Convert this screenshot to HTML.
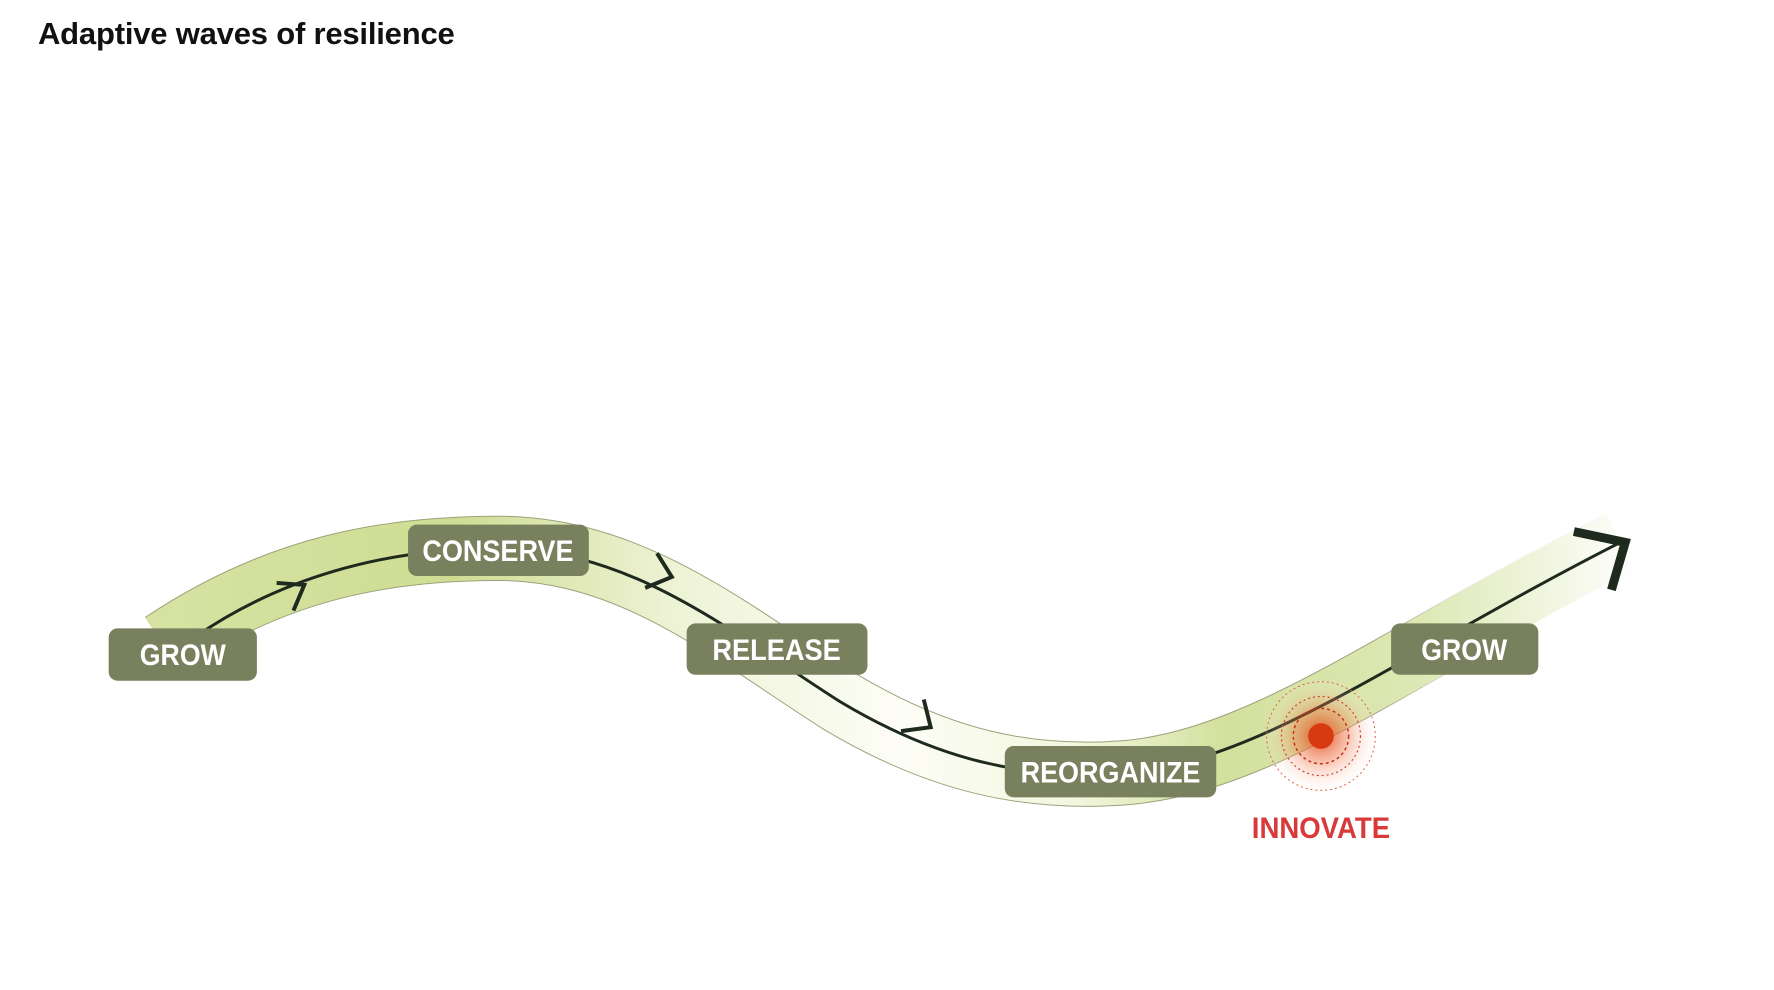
<!DOCTYPE html>
<html><head><meta charset="utf-8"><style>
html,body{margin:0;padding:0;background:#fff;}
body{width:1774px;height:990px;overflow:hidden;position:relative;font-family:"Liberation Sans",sans-serif;}
.t{position:absolute;left:38px;top:16px;font-size:31px;font-weight:bold;color:#111;font-family:"Liberation Sans",sans-serif;letter-spacing:-0.2px;}
</style></head><body>
<div class="t">Adaptive waves of resilience</div>
<svg width="1774" height="990" style="position:absolute;left:0;top:0">
<defs>
<linearGradient id="g" gradientUnits="userSpaceOnUse" x1="160" y1="0" x2="1660" y2="0">
<stop offset="0" stop-color="#d6e2a2"/>
<stop offset="0.2" stop-color="#cfdd94"/>
<stop offset="0.35" stop-color="#eef3d6"/>
<stop offset="0.5" stop-color="#fdfdf6"/>
<stop offset="0.62" stop-color="#f2f6de"/>
<stop offset="0.72" stop-color="#d3e09d"/>
<stop offset="0.85" stop-color="#dde8b4"/>
<stop offset="1" stop-color="#ffffff"/>
</linearGradient>
<linearGradient id="b" gradientUnits="userSpaceOnUse" x1="160" y1="0" x2="1660" y2="0">
<stop offset="0" stop-color="#9aa27a"/>
<stop offset="0.82" stop-color="#9aa27a"/>
<stop offset="0.95" stop-color="#ffffff" stop-opacity="0"/>
</linearGradient>
<radialGradient id="r">
<stop offset="0" stop-color="#e04010" stop-opacity="0.9"/>
<stop offset="0.5" stop-color="#f07040" stop-opacity="0.35"/>
<stop offset="1" stop-color="#ffffff" stop-opacity="0"/>
</radialGradient>
</defs>
<g transform="scale(0.988)">
<path d="M165,652 C280,575 390,555 504,555 C640,555 740,640 850,710 C950,770 1040,790 1140,782 C1280,770 1420,660 1640,548" fill="none" stroke="url(#b)" stroke-width="66"/>
<path d="M165,652 C280,575 390,555 504,555 C640,555 740,640 850,710 C950,770 1040,790 1140,782 C1280,770 1420,660 1640,548" fill="none" stroke="url(#g)" stroke-width="64"/>
<path d="M190,650 C280,585 390,555 504,555 C640,555 740,640 850,710 C950,770 1040,790 1140,782 C1280,770 1420,660 1646,546" fill="none" stroke="#1e2a1e" stroke-width="3"/>
<circle cx="1337" cy="745" r="60" fill="url(#r)"/>
<circle cx="1337" cy="745" r="55" fill="none" stroke="#e06040" stroke-width="1" stroke-dasharray="2,3"/>
<circle cx="1337" cy="745" r="40" fill="none" stroke="#d04030" stroke-width="1.2" stroke-dasharray="2,3"/>
<circle cx="1337" cy="745" r="28" fill="none" stroke="#c03020" stroke-width="1.5" stroke-dasharray="3,3"/>
<circle cx="1337" cy="745" r="13" fill="#d83a10"/>
<g fill="none" stroke="#1e2a1e" stroke-width="4">
<polyline points="280,590 308,592 297,618"/>
<polyline points="665,560 680,584 653,595"/>
<polyline points="935,708 942,736 912,740"/>
</g>
<polyline points="1593,538 1645,549 1631,597" fill="none" stroke="#1e2a1e" stroke-width="9"/>
<g font-family="Liberation Sans, sans-serif" font-weight="bold" font-size="30" fill="#fff" text-anchor="middle" lengthAdjust="spacingAndGlyphs">
<rect x="110" y="636" width="150" height="53" rx="9" fill="#78805e"/>
<text x="185" y="673" textLength="87" lengthAdjust="spacingAndGlyphs">GROW</text>
<rect x="413" y="531" width="183" height="52" rx="9" fill="#78805e"/>
<text x="504" y="568" textLength="153" lengthAdjust="spacingAndGlyphs">CONSERVE</text>
<rect x="695" y="631" width="183" height="52" rx="9" fill="#78805e"/>
<text x="786" y="668" textLength="130" lengthAdjust="spacingAndGlyphs">RELEASE</text>
<rect x="1017" y="755" width="214" height="52" rx="9" fill="#78805e"/>
<text x="1124" y="792" textLength="182" lengthAdjust="spacingAndGlyphs">REORGANIZE</text>
<rect x="1408" y="631" width="149" height="52" rx="9" fill="#78805e"/>
<text x="1482" y="668" textLength="87" lengthAdjust="spacingAndGlyphs">GROW</text>
<text x="1337" y="848" fill="#d83a3a" textLength="140" lengthAdjust="spacingAndGlyphs">INNOVATE</text>
</g>
</g>
</svg>
</body></html>
